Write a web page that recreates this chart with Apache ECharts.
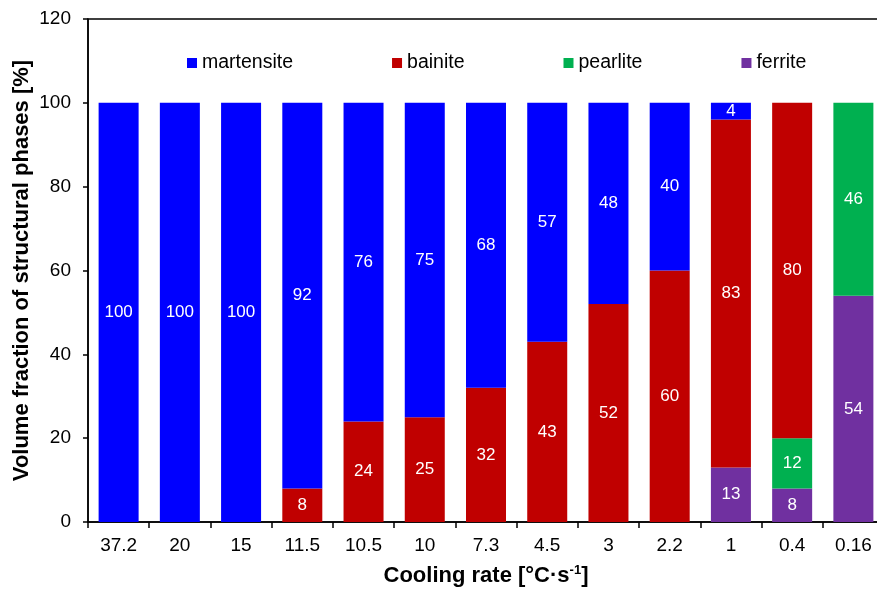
<!DOCTYPE html>
<html><head><meta charset="utf-8">
<script src="https://cdn.jsdelivr.net/npm/echarts@6/dist/echarts.min.js"></script>
<style>html,body{margin:0;padding:0;background:#fff}#c{width:877px;height:589px}</style>
</head><body><div id="c"></div>
<script>
const categories = ['37.2','20','15','11.5','10.5','10','7.3','4.5','3','2.2','1','0.4','0.16'];
const martensite = [100,100,100,92,76,75,68,57,48,40,4,0,0];
const bainite    = [0,0,0,8,24,25,32,43,52,60,83,80,0];
const pearlite   = [0,0,0,0,0,0,0,0,0,0,0,12,46];
const ferrite    = [0,0,0,0,0,0,0,0,0,0,13,8,54];
const yTicks = [0,20,40,60,80,100,120];

const font = 'Liberation Sans, Arial, sans-serif';
function mk(name, data, color){
  return {
    name, type:'bar', stack:'t', data, barWidth:40,
    itemStyle:{color},
    label:{show:true, position:'inside', color:'#fff', fontSize:17, fontFamily:font,
      formatter:p=> p.value===0 ? '' : String(p.value)}
  };
}
const chart = echarts.init(document.getElementById('c'));
chart.setOption({
  animation:false,
  textStyle:{fontFamily:font},
  grid:{left:88, top:19, width:796, height:503, outerBoundsMode:'none', containLabel:false,
    show:true, borderColor:'#000', borderWidth:1.5, backgroundColor:'transparent'},
  legend:{
    data:['martensite','bainite','pearlite','ferrite'],
    left:182, top:48, icon:'rect', itemWidth:10, itemHeight:10, itemGap:99,
    textStyle:{fontSize:19.5, color:'#000', fontFamily:font}
  },
  xAxis:{
    type:'category', data:categories,
    axisLine:{lineStyle:{color:'#000', width:1.5}},
    axisTick:{show:true, alignWithLabel:false, length:6, lineStyle:{color:'#000', width:1.5}},
    axisLabel:{fontSize:19, color:'#000', margin:14, fontFamily:font},
    name:'Cooling rate [°C·s{sup|-1}]', nameLocation:'middle', nameGap:42, nameMoveOverlap:false,
    nameTextStyle:{fontSize:22, fontWeight:'bold', color:'#000', fontFamily:font,
      rich:{sup:{fontSize:13, fontWeight:'bold', verticalAlign:'top', padding:[0,0,10,0], fontFamily:font}}}
  },
  yAxis:{
    type:'value', min:yTicks[0], max:yTicks[yTicks.length-1], interval:20,
    splitLine:{show:false},
    axisLine:{show:true, lineStyle:{color:'#000', width:1.5}},
    axisTick:{show:true, length:5, lineStyle:{color:'#000', width:1.5}},
    axisLabel:{fontSize:19, color:'#000', margin:17, fontFamily:font},
    name:'Volume fraction of structural phases [%]', nameLocation:'middle', nameGap:55, nameMoveOverlap:false,
    nameTextStyle:{fontSize:22, fontWeight:'bold', color:'#000', fontFamily:font}
  },
  series:[
    mk('ferrite', ferrite, '#7030A0'),
    mk('pearlite', pearlite, '#00B050'),
    mk('bainite', bainite, '#C00000'),
    mk('martensite', martensite, '#0000FF')
  ]
});
</script></body></html>
